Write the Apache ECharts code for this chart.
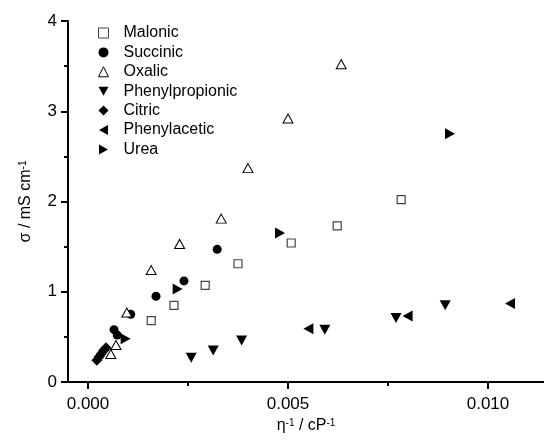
<!DOCTYPE html>
<html>
<head>
<meta charset="utf-8">
<script src="https://cdn.jsdelivr.net/npm/echarts@6/dist/echarts.min.js"></script>
<style>
  html, body { margin: 0; padding: 0; background: #fff; }
  #chart { width: 544px; height: 445px; }
</style>
</head>
<body>
<div id="chart"></div>
<script>
// Conductivity vs. inverse viscosity for each additive
const malonicX = [0.00158, 0.00215, 0.00293, 0.00375, 0.00508, 0.00623, 0.00783];
const malonicY = [0.68, 0.85, 1.07, 1.31, 1.54, 1.73, 2.02];

const succinicX = [0.00065, 0.00073, 0.00107, 0.00170, 0.00240, 0.00323];
const succinicY = [0.58, 0.52, 0.75, 0.95, 1.12, 1.47];

const oxalicX = [0.00057, 0.00070, 0.00097, 0.00158, 0.00229, 0.00333, 0.00400, 0.00500, 0.00633];
const oxalicY = [0.31, 0.41, 0.77, 1.24, 1.53, 1.81, 2.37, 2.92, 3.52];

const phenylpropionicX = [0.00258, 0.00313, 0.00384, 0.00592, 0.00770, 0.00893];
const phenylpropionicY = [0.27, 0.35, 0.46, 0.58, 0.71, 0.85];

const citricX = [0.00022, 0.00028, 0.00033, 0.00039, 0.00045];
const citricY = [0.24, 0.28, 0.31, 0.35, 0.38];

const phenylaceticX = [0.00551, 0.00799, 0.01055];
const phenylaceticY = [0.59, 0.73, 0.87];

const ureaX = [0.00094, 0.00224, 0.00480, 0.00905];
const ureaY = [0.48, 1.03, 1.65, 2.75];

const seriesNames = ['Malonic', 'Succinic', 'Oxalic', 'Phenylpropionic', 'Citric', 'Phenylacetic', 'Urea'];
const xMajorTicks = [0, 0.005, 0.010];
const xMinorTicks = [0.0025, 0.0075];

const FONT = 'Liberation Sans, Arial, sans-serif';

// Marker shapes
const TRI_DOWN = 'path://M0,0L10,0L5,9Z';
const TRI_LEFT = 'path://M9,0L9,10L0,5Z';
const TRI_RIGHT = 'path://M0,0L0,10L9,5Z';

function pairs(xs, ys) { return xs.map((x, i) => [x, ys[i]]); }

const chart = echarts.init(document.getElementById('chart'), null, { renderer: 'canvas' });

const filled = { color: '#000', opacity: 1 };

chart.setOption({
  animation: false,
  backgroundColor: '#fff',
  textStyle: { fontFamily: FONT, color: '#000' },
  grid: { left: 68, top: 21, right: 0, bottom: 63, containLabel: false },
  legend: {
    orient: 'vertical',
    left: 93,
    top: 20,
    itemWidth: 10,
    itemHeight: 10,
    itemGap: 3.4,
    itemStyle: { borderWidth: 1 },
    textStyle: { fontFamily: FONT, fontSize: 16, color: '#000', padding: [0, 0, 0, 10] },
    data: seriesNames
  },
  xAxis: [
    {
      type: 'value',
      min: -0.0005,
      max: 0.0114,
      position: 'bottom',
      name: 'η{sup|-1} / cP{sup|-1}',
      nameLocation: 'middle',
      nameGap: 29,
      nameTextStyle: {
        fontFamily: FONT, fontSize: 16, color: '#000',
        rich: { sup: { fontSize: 10, verticalAlign: 'top', fontFamily: FONT, color: '#000' } }
      },
      axisLine: { show: true, onZero: false, lineStyle: { color: '#000', width: 2 } },
      axisTick: { show: true, customValues: xMajorTicks, length: 7, inside: false, lineStyle: { color: '#000', width: 2 } },
      axisLabel: {
        show: true, customValues: xMajorTicks, margin: 14,
        fontFamily: FONT, fontSize: 17, color: '#000',
        formatter: v => v.toFixed(3)
      },
      splitLine: { show: false }
    },
    {
      type: 'value',
      min: -0.0005,
      max: 0.0114,
      position: 'bottom',
      axisLine: { show: false, onZero: false },
      axisTick: { show: true, customValues: xMinorTicks, length: 4, lineStyle: { color: '#000', width: 2 } },
      axisLabel: { show: false },
      splitLine: { show: false }
    }
  ],
  yAxis: {
    type: 'value',
    min: 0,
    max: 4,
    interval: 1,
    name: 'σ / mS cm{sup|-1}',
    nameLocation: 'middle',
    nameGap: 34,
    nameTextStyle: {
      fontFamily: FONT, fontSize: 16, color: '#000',
      rich: { sup: { fontSize: 10, verticalAlign: 'top', fontFamily: FONT, color: '#000' } }
    },
    axisLine: { show: true, onZero: false, lineStyle: { color: '#000', width: 2 } },
    axisTick: { show: true, length: 7, lineStyle: { color: '#000', width: 2 } },
    minorTick: { show: true, splitNumber: 2, length: 4, lineStyle: { color: '#000', width: 2 } },
    axisLabel: { margin: 11, fontFamily: FONT, fontSize: 17, color: '#000' },
    splitLine: { show: false },
    minorSplitLine: { show: false }
  },
  series: [
    {
      name: 'Malonic', type: 'scatter', z: 2,
      symbol: 'rect', symbolSize: 8,
      itemStyle: { color: '#fff', borderColor: '#444', borderWidth: 1.2, opacity: 1 },
      data: pairs(malonicX, malonicY)
    },
    {
      name: 'Succinic', type: 'scatter', z: 2,
      symbol: 'circle', symbolSize: 9,
      itemStyle: filled,
      data: pairs(succinicX, succinicY)
    },
    {
      name: 'Oxalic', type: 'scatter', z: 4,
      symbol: 'triangle', symbolSize: [10, 9],
      itemStyle: { color: '#fff', borderColor: '#000', borderWidth: 1, opacity: 1 },
      data: pairs(oxalicX, oxalicY)
    },
    {
      name: 'Phenylpropionic', type: 'scatter', z: 2,
      symbol: TRI_DOWN, symbolSize: [11, 10],
      itemStyle: filled,
      data: pairs(phenylpropionicX, phenylpropionicY)
    },
    {
      name: 'Citric', type: 'scatter', z: 3,
      symbol: 'diamond', symbolSize: [11, 11],
      itemStyle: filled,
      data: pairs(citricX, citricY)
    },
    {
      name: 'Phenylacetic', type: 'scatter', z: 2,
      symbol: TRI_LEFT, symbolSize: [10, 11],
      itemStyle: filled,
      data: pairs(phenylaceticX, phenylaceticY)
    },
    {
      name: 'Urea', type: 'scatter', z: 2,
      symbol: TRI_RIGHT, symbolSize: [10, 11],
      itemStyle: filled,
      data: pairs(ureaX, ureaY)
    }
  ]
});
</script>
</body>
</html>
